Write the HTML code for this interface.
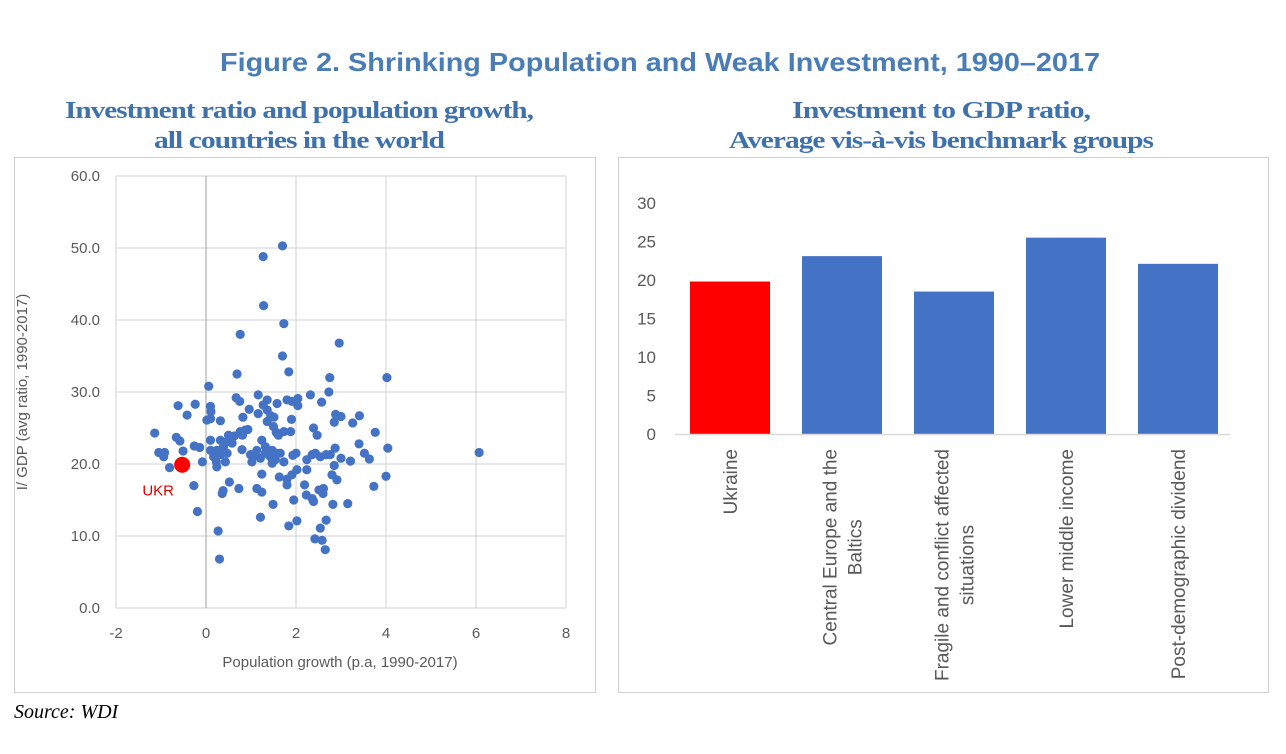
<!DOCTYPE html>
<html><head><meta charset="utf-8"><style>
body{margin:0;background:#fff;width:1286px;height:754px;overflow:hidden;}
svg{display:block}
</style></head><body>
<svg width="1286" height="754" xmlns="http://www.w3.org/2000/svg" id="root">
<text x="660" y="71" text-anchor="middle" textLength="880" lengthAdjust="spacingAndGlyphs" font-family="Liberation Sans, sans-serif" font-weight="bold" font-size="26" fill="#4a7db5">Figure 2.   Shrinking Population and Weak Investment, 1990–2017</text>
<g font-family="Liberation Serif, serif" font-weight="bold" font-size="24" fill="#3f72ad" text-anchor="middle" letter-spacing="-0.8">
<text x="299" y="118" textLength="468" lengthAdjust="spacingAndGlyphs">Investment ratio and population growth,</text>
<text x="299" y="148" textLength="290" lengthAdjust="spacingAndGlyphs">all countries in the world</text>
<text x="941" y="118" textLength="298" lengthAdjust="spacingAndGlyphs">Investment to GDP ratio,</text>
<text x="941" y="148" textLength="424" lengthAdjust="spacingAndGlyphs">Average vis-à-vis benchmark groups</text>
</g>
<rect x="14.5" y="157.5" width="581" height="535" fill="none" stroke="#d0d0d0"/>
<rect x="618.5" y="157.5" width="650" height="535" fill="none" stroke="#d0d0d0"/>
<g id="scatter"></g>
<g id="bars"></g>
<text x="14" y="718" font-family="Liberation Serif, serif" font-style="italic" font-size="20" fill="#000">Source: WDI</text>
</svg>
<script>
const NS='http://www.w3.org/2000/svg';
const scatterX=[1.70,1.27,1.28,1.73,0.76,2.96,1.70,1.84,0.69,2.75,4.02,0.06,2.73,1.16,0.67,0.75,1.36,1.27,1.58,1.80,1.91,2.04,2.04,2.32,2.57,-0.62,-0.24,0.10,0.11,-0.42,0.02,0.10,0.32,0.96,0.82,1.16,1.36,1.44,1.51,1.36,1.50,1.56,1.73,1.88,1.90,1.61,2.39,2.47,2.88,3.00,2.85,3.26,3.41,3.76,-1.14,-0.66,-0.58,-0.26,-0.14,-1.05,-0.92,-0.94,-0.51,-0.81,-0.08,0.10,0.32,0.50,0.63,0.76,0.87,0.93,0.81,0.47,0.39,0.24,0.10,0.17,0.32,0.47,0.23,0.24,0.43,0.58,0.80,0.99,1.13,1.24,1.32,1.06,1.02,1.21,1.32,1.47,1.43,1.54,1.47,1.65,1.73,1.56,1.93,2.00,2.24,2.36,2.43,2.54,2.67,2.76,2.87,3.00,3.21,3.40,3.52,3.63,4.04,6.07,1.24,1.63,1.80,1.91,2.02,2.24,2.85,2.80,2.91,4.00,-0.27,0.52,0.73,0.36,0.38,1.13,1.24,1.80,2.19,2.23,2.36,2.39,2.51,2.61,2.60,3.73,1.95,1.49,2.82,3.15,-0.19,1.21,2.02,1.84,2.67,2.54,2.42,2.58,2.65,0.27,0.30];
const scatterY=[50.3,48.8,42.0,39.5,38.0,36.8,35.0,32.8,32.5,32.0,32.0,30.8,30.0,29.6,29.2,28.7,28.9,28.2,28.4,28.9,28.7,29.1,28.1,29.6,28.6,28.1,28.3,28.0,27.3,26.8,26.1,26.3,26.0,27.6,26.5,27.0,27.5,26.7,26.5,25.9,25.2,24.4,24.5,24.5,26.2,24.0,25.0,24.0,26.9,26.6,25.8,25.7,26.7,24.4,24.3,23.7,23.2,22.5,22.3,21.6,21.6,21.0,21.8,19.5,20.3,23.3,23.3,24.0,23.9,24.5,24.7,24.8,24.0,23.1,22.4,21.9,21.9,21.0,21.3,21.5,20.3,19.6,20.3,22.9,22.0,21.3,21.9,23.3,22.4,21.0,20.3,20.8,21.5,21.9,21.0,20.6,20.1,21.5,20.3,21.5,21.2,21.5,20.6,21.3,21.5,21.0,21.3,21.3,22.2,20.8,20.4,22.8,21.5,20.7,22.2,21.6,18.6,18.2,17.9,18.5,19.2,19.2,19.8,18.5,17.8,18.3,17.0,17.5,16.6,15.9,16.3,16.6,16.1,17.1,17.1,15.7,15.2,14.8,16.4,16.6,15.9,16.9,15.0,14.4,14.4,14.5,13.4,12.6,12.1,11.4,12.2,11.1,9.6,9.4,8.1,10.7,6.8];
const ukrX=[-0.53];
const ukrY=[19.9];
const xTicks=[-2,0,2,4,6,8];
const yTicks=[0,10,20,30,40,50,60];
const yTickLabels=['0.0','10.0','20.0','30.0','40.0','50.0','60.0'];

const barCats=[['Ukraine'],['Central Europe and the','Baltics'],['Fragile and conflict affected','situations'],['Lower middle income'],['Post-demographic dividend']];
const barVals=[19.8,23.1,18.5,25.5,22.1];
const barTicks=[0,5,10,15,20,25,30];

function mk(tag,attrs,parent){const e=document.createElementNS(NS,tag);for(const k in attrs)e.setAttribute(k,attrs[k]);parent.appendChild(e);return e;}
const sx=v=>206+(v)*45, sy=v=>608-v*7.2;
const sg=document.getElementById('scatter');
yTicks.forEach((t,i)=>{
 const l=mk('line',{x1:116,x2:566,y1:sy(t),y2:sy(t),stroke:'#d9d9d9','stroke-width':1.2},sg);
 
 
 const tx=mk('text',{x:100,y:sy(t)+5,'text-anchor':'end','font-family':'Liberation Sans, sans-serif','font-size':15,fill:'#595959'},sg);
 tx.textContent=yTickLabels[i];
 
 
});
xTicks.forEach(t=>{
 const l=mk('line',{x1:sx(t),x2:sx(t),y1:176,y2:608,stroke:t===0?'#bfbfbf':'#d9d9d9','stroke-width':t===0?1.5:1.2},sg);
 
 
 const tx=mk('text',{x:sx(t),y:638,'text-anchor':'middle','font-family':'Liberation Sans, sans-serif','font-size':15,fill:'#595959'},sg);
 tx.textContent=t;
 
 
});
scatterX.forEach((x,i)=>{
 const c=mk('circle',{cx:sx(x),cy:sy(scatterY[i]),r:4.6,fill:'#4472c4'},sg);
 
 
});
ukrX.forEach((x,i)=>{
 const c=mk('circle',{cx:sx(x),cy:sy(ukrY[i]),r:8,fill:'#ff0000'},sg);
 
 
 const t=mk('text',{x:sx(x)-24,y:sy(ukrY[i])+31,'text-anchor':'middle','font-family':'Liberation Sans, sans-serif','font-size':15,fill:'#e00000'},sg);
 t.textContent='UKR';
 
 
});
let t=mk('text',{x:340,y:667,'text-anchor':'middle','font-family':'Liberation Sans, sans-serif','font-size':15,fill:'#595959'},sg);
t.textContent='Population growth (p.a, 1990-2017)';


t=mk('text',{x:0,y:0,transform:'translate(27,392) rotate(-90)','text-anchor':'middle','font-family':'Liberation Sans, sans-serif','font-size':15,fill:'#595959'},sg);
t.textContent='I/ GDP (avg ratio, 1990-2017)';



const bg=document.getElementById('bars');
const by=v=>434-v*7.7, bx=i=>730+i*112;
barTicks.forEach(v=>{
 const tx=mk('text',{x:656,y:by(v)+6,'text-anchor':'end','font-family':'Liberation Sans, sans-serif','font-size':17,fill:'#595959'},bg);
 tx.textContent=v;
 
 
});
barVals.forEach((v,i)=>{
 const r=mk('rect',{x:bx(i)-40,y:by(v),width:80,height:434-by(v),fill:i===0?'#ff0000':'#4472c4'},bg);
 
 
 const lines=barCats[i];
 let center=0;
 lines.forEach((s,j)=>{
  const off=(j-(lines.length-1)/2)*25;
  const tx=mk('text',{x:0,y:0,'text-anchor':'end','font-family':'Liberation Sans, sans-serif','font-size':19,fill:'#595959'},bg);
  tx.textContent=s;
  
  
  if(j===0){
   tx.setAttribute('transform',`translate(${bx(i)+off+7},449) rotate(-90)`);
   center=449+tx.getComputedTextLength()/2;
  } else {
   tx.setAttribute('text-anchor','middle');
   tx.setAttribute('transform',`translate(${bx(i)+off+7},${center}) rotate(-90)`);
  }
 });
});
const ax=mk('line',{x1:675,x2:1230,y1:434.5,y2:434.5,stroke:'#d9d9d9','stroke-width':1.5},bg);


</script>
</body></html>
